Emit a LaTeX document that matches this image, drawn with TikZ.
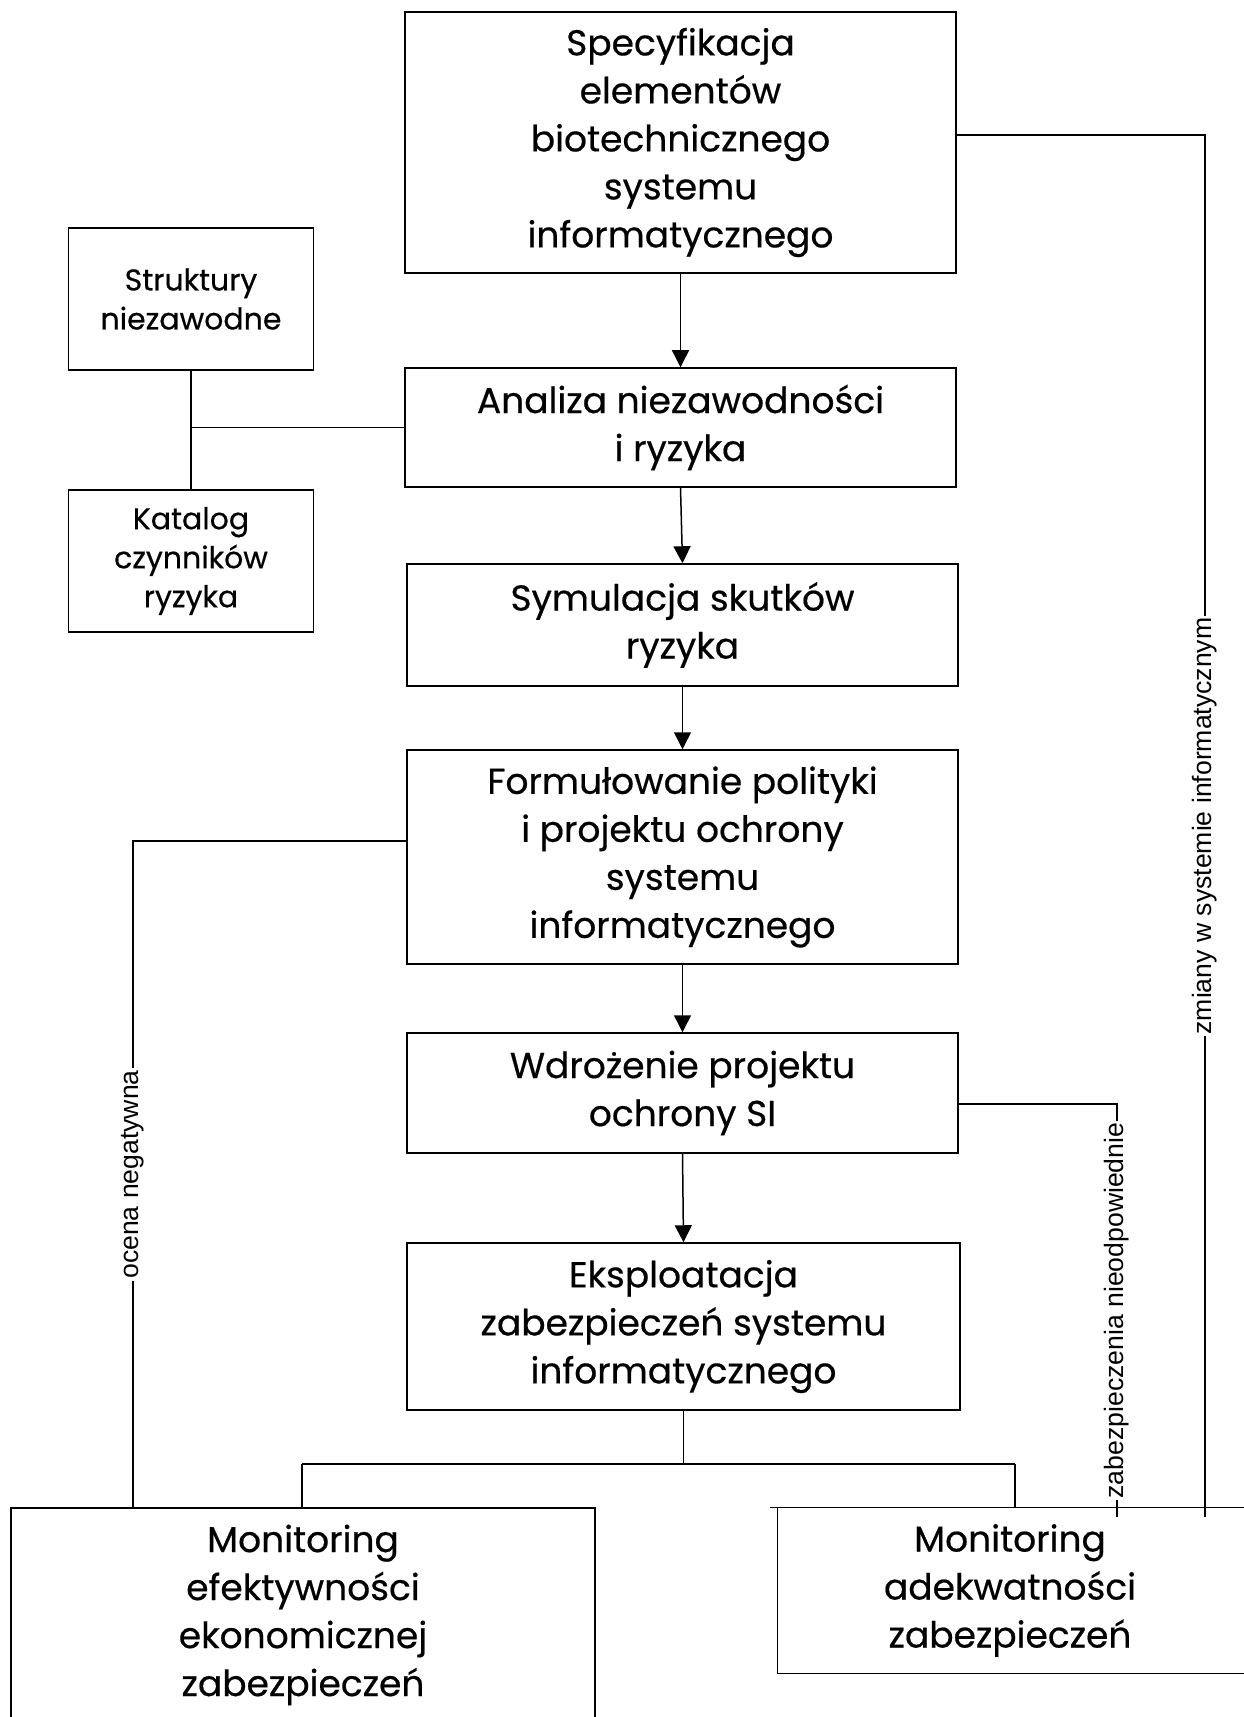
\documentclass[tikz,border=0pt]{standalone}
\usepackage{fontspec}
\setmainfont{Poppins}[FakeBold=0.5]
\newfontfamily\labelfont{Liberation Sans}
\usetikzlibrary{arrows.meta}
\tikzset{
  box/.style={draw, line width=0.75pt, align=center, inner sep=0pt,
    font=\fontsize{18}{24}\selectfont},
  boxtext/.style={align=center, inner sep=0pt,
    font=\fontsize{18}{24}\selectfont},
  smallbox/.style={draw, line width=0.75pt, align=center, inner sep=0pt,
    font=\fontsize{15}{19.5}\selectfont},
  conn/.style={line width=0.75pt},
  arr/.style={line width=0.75pt, -{Triangle[width=8.5pt,length=8.5pt]}},
  lbl/.style={fill=white, rotate=90, inner xsep=1pt, inner ysep=1pt,
    font=\labelfont\fontsize{13.3}{15}\selectfont}
}
\begin{document}
\begin{tikzpicture}[x=0.5pt,y=-0.5pt]
\useasboundingbox (0,0) rectangle (1243,1717);
\fill[white] (0,0) rectangle (1243,1717);

\node[box, minimum width=275.5pt, minimum height=130.5pt] (spec) at (680.5,142.5)
  {Specyfikacja\\elementów\\biotechnicznego\\systemu\\informatycznego};
\node[smallbox, minimum width=122.5pt, minimum height=71pt] (struk) at (191,299)
  {Struktury\\niezawodne};
\node[box, minimum width=275.5pt, minimum height=59.5pt] (anal) at (680.5,427.5)
  {Analiza niezawodności\\i ryzyka};
\node[smallbox, minimum width=122.5pt, minimum height=71pt] (kat) at (191,561)
  {Katalog\\czynników\\ryzyka};
\node[box, minimum width=275.5pt, minimum height=61pt] (sym) at (682.5,625)
  {Symulacja skutków\\ryzyka};
\node[box, minimum width=275.5pt, minimum height=107pt] (form) at (682.5,857)
  {Formułowanie polityki\\i projektu ochrony\\systemu\\informatycznego};
\node[box, minimum width=275.5pt, minimum height=60pt] (wdr) at (682.5,1093)
  {Wdrożenie projektu\\ochrony SI};
\node[box, minimum width=276.5pt, minimum height=83.5pt] (eks) at (683.5,1326.5)
  {Eksploatacja\\zabezpieczeń systemu\\informatycznego};
\node[box, minimum width=292pt, minimum height=107pt] (monL) at (303,1615)
  {Monitoring\\efektywności\\ekonomicznej\\zabezpieczeń};
\node[boxtext, minimum width=232pt, minimum height=82.5pt] (monR) at (1010,1590.5)
  {Monitoring\\adekwatności\\zabezpieczeń};
\draw[conn] ([xshift=20pt]monR.north east) -- ([xshift=-4pt]monR.north west)
  (monR.north west) -- (monR.south west) -- ([xshift=20pt]monR.south east);

% main flow
\draw[arr] (spec.south) -- (anal.north);
\draw[arr] (anal.south) -- (sym.north);
\draw[arr] (sym.south) -- (form.north);
\draw[arr] (form.south) -- (wdr.north);
\draw[arr] (wdr.south) -- (eks.north);

% side boxes
\draw[conn] (struk.south) -- (kat.north);
\draw[conn] (struk.south |- anal.west) -- (anal.west);

% split to monitoring
\coordinate (sl) at (302,1464);
\coordinate (sr) at (1015,1464);
\draw[conn] (eks.south) -- (eks.south |- sl);
\draw[conn] (sl) -- (sr);
\draw[conn] (sl) -- (sl |- monL.north);
\draw[conn] (sr) -- (sr |- monR.north);

% feedback lines
\coordinate (o1) at (133,841);
\coordinate (o2) at (133,1508);
\draw[conn] (o1 -| form.west) -- (o1) -- node[lbl] {ocena negatywna} (o2);

\coordinate (z1) at (1117,1104);
\coordinate (z2) at (1117,1517);
\draw[conn] (z1 -| wdr.east) -- (z1) -- node[lbl] {zabezpieczenia nieodpowiednie} (z2);

\coordinate (c1) at (1205,135);
\coordinate (c2) at (1205,1517);
\draw[conn] (c1 -| spec.east) -- (c1) -- node[lbl] {zmiany w systemie informatycznym} (c2);
\end{tikzpicture}
\end{document}
